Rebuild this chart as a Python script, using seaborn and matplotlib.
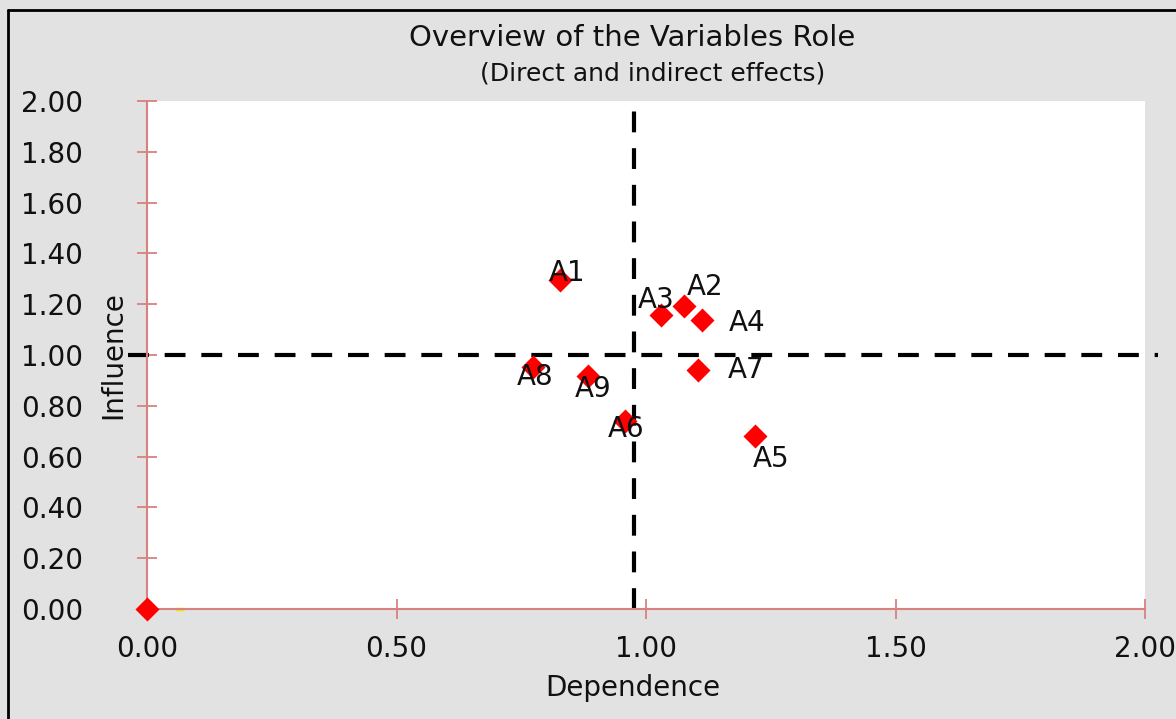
import matplotlib
matplotlib.use("Agg")
import matplotlib.pyplot as plt
import seaborn as sns
import pandas as pd
from matplotlib.lines import Line2D

# datos
variables = ["A1", "A2", "A3", "A4", "A5", "A6", "A7", "A8", "A9"]
dependence = [0.828, 1.076, 1.031, 1.113, 1.218, 0.958, 1.104, 0.774, 0.883]
influence = [1.295, 1.191, 1.157, 1.136, 0.683, 0.742, 0.941, 0.953, 0.917]

origin_x = [0.0]
origin_y = [0.0]
extra_x = [0.066]
extra_y = [0.0]

mean_dependence = 0.976
mean_influence = 1.0

x_ticks = [0.0, 0.5, 1.0, 1.5, 2.0]
y_ticks = [0.0, 0.2, 0.4, 0.6, 0.8, 1.0, 1.2, 1.4, 1.6, 1.8, 2.0]

# desplazamiento de etiquetas (puntos)
label_offsets = {
    "A1": (5, 5), "A2": (15, 14), "A3": (-4, 11), "A4": (32, -2),
    "A5": (12, -17), "A6": (1, -6), "A7": (35, 0), "A8": (1, -7), "A9": (4, -9),
}

sns.set_theme(style="white")
plt.rcParams["font.family"] = ["DejaVu Sans"]

BG = "#e2e2e2"
SPINE = "#d98080"

fig = plt.figure(figsize=(11.76, 7.19), dpi=100, facecolor=BG)
ax = fig.add_axes([147 / 1176, 1 - 609 / 719, 998 / 1176, 508 / 719])
ax.set_facecolor("white")

df = pd.DataFrame({"Dependence": dependence, "Influence": influence, "var": variables})

# lineas de referencia
ax.plot([mean_dependence, mean_dependence], [0, 2.0], color="black", lw=3,
        linestyle=(0, (5.0, 3.8)), zorder=2, clip_on=False)
ax.plot([-0.038, 2.026], [mean_influence, mean_influence], color="black", lw=3,
        linestyle=(0, (5.0, 3.8)), zorder=2, clip_on=False)

sns.scatterplot(data=df, x="Dependence", y="Influence", marker="D", color="red",
                s=150, linewidth=0, ax=ax, zorder=4)
sns.scatterplot(x=origin_x, y=origin_y, marker="D", color="red", s=150,
                linewidth=0, ax=ax, zorder=5)
ax.collections[-1].set_clip_on(False)
sns.scatterplot(x=extra_x, y=extra_y, marker="_", color="#f2e600", s=40,
                linewidth=2.5, ax=ax, zorder=1)
ax.collections[-1].set_clip_on(False)

for v, x, y in zip(variables, dependence, influence):
    ax.annotate(v, (x, y), xytext=label_offsets[v], textcoords="offset points",
                ha="center", va="center", fontsize=20, color="#111111", zorder=6)

ax.set_xlim(0, 2)
ax.set_ylim(0, 2)
ax.set_xticks(x_ticks)
ax.set_yticks(y_ticks)
ax.set_xticklabels([f"{t:.2f}" for t in x_ticks])
ax.set_yticklabels([f"{t:.2f}" for t in y_ticks])

for s in ["top", "right"]:
    ax.spines[s].set_visible(False)
for s in ["left", "bottom"]:
    ax.spines[s].set_color(SPINE)
    ax.spines[s].set_linewidth(1.5)
    ax.spines[s].set_zorder(3)

ax.tick_params(axis="both", which="major", direction="inout", length=14,
               width=1.3, color=SPINE, labelsize=20, labelcolor="#111111",
               bottom=True, left=True)
ax.tick_params(axis="y", pad=39)
ax.tick_params(axis="x", pad=12)

ax.set_xlabel("Dependence", fontsize=20, color="#111111")
ax.set_ylabel("Influence", fontsize=20, color="#111111")
ax.xaxis.set_label_coords(0.487, -0.156)
ax.xaxis.label.set_va("center")
ax.yaxis.set_label_coords(-0.034, 0.5)
ax.yaxis.label.set_va("center")

fig.text(632 / 1176, 1 - 38 / 719, "Overview of the Variables Role", ha="center",
         va="center", fontsize=21, color="#111111")
fig.text(653 / 1176, 1 - 74 / 719, "(Direct and indirect effects)", ha="center",
         va="center", fontsize=18, color="#111111")

# marco negro
fig.add_artist(Line2D([8 / 1176, 1], [1 - 10 / 719, 1 - 10 / 719],
                      transform=fig.transFigure, color="black", lw=2))
fig.add_artist(Line2D([8 / 1176, 8 / 1176], [0, 1 - 10 / 719],
                      transform=fig.transFigure, color="black", lw=2))

fig.savefig("out.png", dpi=100, facecolor=BG)
